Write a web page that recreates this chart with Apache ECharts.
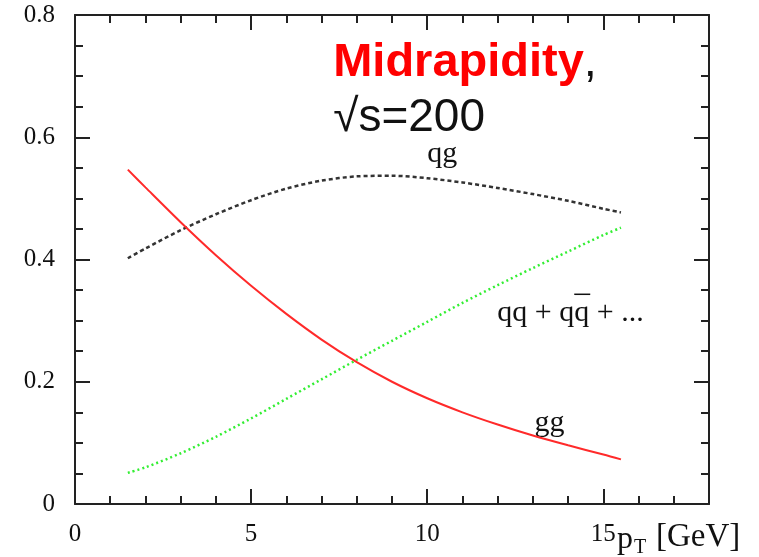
<!DOCTYPE html>
<html>
<head>
<meta charset="utf-8">
<script src="https://cdn.jsdelivr.net/npm/echarts@6/dist/echarts.min.js"></script>
<style>
  html, body { margin: 0; padding: 0; background: #fff; }
  #main { width: 759px; height: 557px; }
</style>
</head>
<body>
<div id="main"></div>
<script>
// pT points (GeV)
var pt = [1.5, 2, 3, 4, 5, 6, 7, 8, 9, 10, 11, 12, 13, 14, 15, 15.5];
// fractions of each subprocess
var qgFrac = [0.402, 0.418, 0.448, 0.474, 0.497, 0.516, 0.529, 0.536, 0.537, 0.533, 0.526, 0.517, 0.507, 0.496, 0.483, 0.477];
var qqFrac = [0.051, 0.060, 0.083, 0.110, 0.140, 0.172, 0.204, 0.236, 0.267, 0.298, 0.329, 0.358, 0.386, 0.413, 0.440, 0.452];
var ggFrac = [0.547, 0.518, 0.461, 0.407, 0.357, 0.311, 0.269, 0.232, 0.200, 0.173, 0.150, 0.130, 0.112, 0.096, 0.081, 0.073];

function pairs(ys) {
  return pt.map(function (x, i) { return [x, ys[i]]; });
}

var chart = echarts.init(document.getElementById('main'));
var serif = 'Liberation Serif';
var sans = 'Liberation Sans';
var frame = { show: true, onZero: false, lineStyle: { color: '#222', width: 2 } };
var noLine = { show: false, onZero: false };
var tickStyle = { color: '#222', width: 2 };

function xAx(pos, interval, len, labels) {
  return {
    type: 'value', position: pos, min: 0, max: 18, interval: interval,
    axisLine: len > 10 ? frame : noLine,
    axisTick: { show: true, inside: true, length: len, lineStyle: tickStyle },
    axisLabel: labels ? {
      fontFamily: serif, fontSize: 25, color: '#111', margin: 18,
      formatter: function (v) { return v % 5 === 0 ? String(v) : ''; }
    } : { show: false },
    splitLine: { show: false }
  };
}
function yAx(pos, labels) {
  return {
    type: 'value', position: pos, min: 0, max: 0.8, interval: 0.2,
    axisLine: frame,
    axisTick: { show: true, inside: true, length: 15, lineStyle: tickStyle },
    minorTick: { show: true, splitNumber: 4, length: 8, lineStyle: tickStyle },
    axisLabel: labels ? { fontFamily: serif, fontSize: 25, color: '#111', margin: 20 } : { show: false },
    splitLine: { show: false }
  };
}

var option = {
  animation: false,
  backgroundColor: '#fff',
  grid: { left: 75, top: 15, right: 50, bottom: 53 },
  xAxis: [xAx('bottom', 5, 15, true), xAx('top', 5, 15, false), xAx('bottom', 1, 8, false), xAx('top', 1, 8, false)],
  yAxis: [yAx('left', true), yAx('right', false)],
  series: [
    {
      name: 'qg', type: 'line', smooth: 0.3, symbol: 'none',
      lineStyle: { color: '#333', width: 2.5, type: [4, 3] },
      data: pairs(qgFrac)
    },
    {
      name: 'qq', type: 'line', smooth: 0.3, symbol: 'none',
      lineStyle: { color: '#33ee33', width: 2.5, type: [2, 3] },
      data: pairs(qqFrac)
    },
    {
      name: 'gg', type: 'line', smooth: 0.3, symbol: 'none',
      lineStyle: { color: '#ff2a2a', width: 2 },
      data: pairs(ggFrac)
    }
  ]
};
chart.setOption(option);

// annotation text, anchored in data coordinates
function at(x, y) { return chart.convertToPixel({ xAxisIndex: 0, yAxisIndex: 0 }, [x, y]); }
var pMid = at(7.33, 0.722), pSqrt = at(7.33, 0.631);
var pQg = at(10.43, 0.572), pQq = at(11.99, 0.312), pGg = at(13.47, 0.132);
var qqFont = { fontFamily: serif, fontSize: 30, fill: '#111' };

// overline over the antiquark
var ctx = document.createElement('canvas').getContext('2d');
ctx.font = '30px "Liberation Serif"';
var barX1 = pQq[0] + ctx.measureText('qq + q').width;
var barX2 = pQq[0] + ctx.measureText('qq + qq').width;

chart.setOption({
  graphic: [
    { type: 'text', x: pMid[0], y: pMid[1], style: {
      text: '{r|Midrapidity}{k|,}', verticalAlign: 'middle',
      rich: {
        r: { fontFamily: sans, fontWeight: 'bold', fontSize: 47, fill: '#ff0000' },
        k: { fontFamily: sans, fontSize: 47, fill: '#111' }
      }
    } },
    { type: 'text', x: pSqrt[0], y: pSqrt[1], style: {
      text: '\u221As=200', fontFamily: sans, fontSize: 46, fill: '#111', verticalAlign: 'middle'
    } },
    { type: 'text', x: pQg[0], y: pQg[1], style: Object.assign({ text: 'qg', align: 'center', verticalAlign: 'middle' }, qqFont) },
    { type: 'text', x: pQq[0], y: pQq[1], style: Object.assign({ text: 'qq + qq + ...', align: 'left', verticalAlign: 'middle' }, qqFont) },
    { type: 'line', shape: { x1: barX1, y1: pQq[1] - 19, x2: barX2 + 1, y2: pQq[1] - 19 }, style: { stroke: '#111', lineWidth: 1.5 } },
    { type: 'text', x: pGg[0], y: pGg[1], style: Object.assign({ text: 'gg', align: 'center', verticalAlign: 'middle' }, qqFont) },
    { type: 'text', left: 617, top: 524, style: { text: 'p', fontFamily: serif, fontSize: 32, fill: '#111' } },
    { type: 'text', left: 634, top: 538, style: { text: 'T', fontFamily: serif, fontSize: 20, fill: '#111' } },
    { type: 'text', left: 656, top: 521, style: { text: '[GeV]', fontFamily: serif, fontSize: 33, fill: '#111' } }
  ]
});
</script>
</body>
</html>
